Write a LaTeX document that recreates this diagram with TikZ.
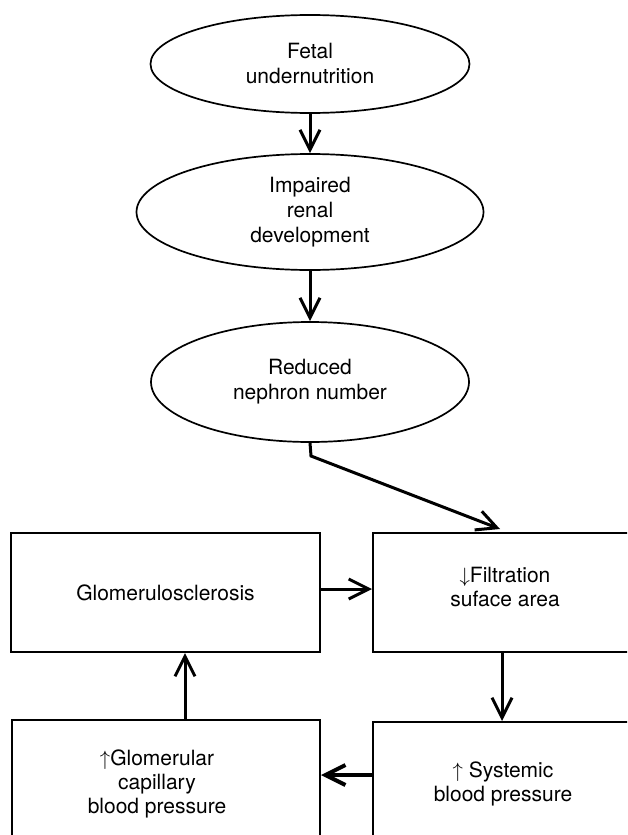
\documentclass[tikz,border=0pt]{standalone}
\usepackage{fontspec}
\setmainfont{TeX Gyre Heros}
\usetikzlibrary{shapes.geometric,arrows.meta}
\newcommand\efont{\fontsize{21}{25}\selectfont}
\newcommand\bfont{\fontsize{21}{24}\selectfont}
\begin{document}
\begin{tikzpicture}[x=1pt,y=-1pt,
  ell/.style={draw, line width=1.7pt, ellipse, inner sep=0pt, align=center, font=\efont},
  box/.style={draw, line width=2pt, rectangle, inner sep=0pt, align=center, font=\bfont},
  txt/.style={align=center, inner sep=0pt, font=\bfont},
  arr/.style={line width=3pt, -{Straight Barb[length=20pt,width=20pt]}}]
\path[use as bounding box, fill=white] (0,0) rectangle (627,835);
\clip (0,0) rectangle (627,835);

\node[ell, minimum width=319pt, minimum height=98pt] (e1) at (310,64) {Fetal\\undernutrition};
\node[ell, minimum width=347pt, minimum height=116pt] (e2) at (310,212) {Impaired\\renal\\development};
\node[ell, minimum width=318pt, minimum height=120pt] (e3) at (310,382) {Reduced\\nephron number};

\node[box, minimum width=309pt, minimum height=119pt] (b1) at (165.5,592.5) {Glomerulosclerosis};
\node[box, minimum width=264pt, minimum height=119pt] (b2) at (505,592.5) {};
\node[txt] (t2) at (505,587) {$\downarrow$Filtration\\suface area};
\node[box, minimum width=308pt, minimum height=128pt] (b3) at (166,784) {};
\node[txt] (t3) at (157,784) {$\uparrow$Glomerular\\capillary\\blood pressure};
\node[box, minimum width=260pt, minimum height=124pt] (b4) at (503,784) {$\uparrow$ Systemic\\blood pressure};

\coordinate (bend) at (311,456);
\coordinate (tip) at (500,529);

\draw[arr] (e1) -- (e2);
\draw[arr] (e2) -- (e3);
\draw[arr] (e3.south) -- (bend) -- (tip);
\draw[arr] ([yshift=3.5pt]b1.east) -- ([yshift=3.5pt]b2.west);
\draw[arr] ([xshift=-3pt]b2.south) -- ([xshift=-1pt]b4.north);
\draw[arr, line width=4pt] ([yshift=9pt]b4.west) -- ([yshift=9pt]b3.east);
\draw[arr] ([xshift=19pt]b3.north) -- ([xshift=19.5pt]b1.south);
\end{tikzpicture}
\end{document}
